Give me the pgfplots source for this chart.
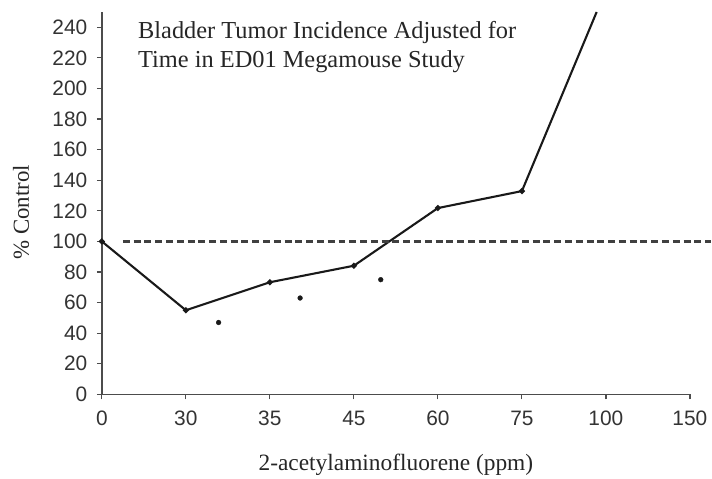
\documentclass[border=0pt]{standalone}
\usepackage{fontspec}
\setmainfont{Liberation Serif}
\setsansfont{Liberation Sans}
\usepackage{pgfplots}
\pgfplotsset{compat=1.18}
\begin{document}
\begin{tikzpicture}
\begin{axis}[
  scale only axis,
  width=589bp, height=383bp,
  at={(0,0)}, anchor=south west,
  xmin=0, xmax=7, ymin=0, ymax=250,
  axis x line*=bottom, axis y line*=left,
  axis line style={line width=1.4pt, black!70},
  xtick={0,1,2,3,4,5,6,7},
  xticklabels={0,30,35,45,60,75,100,150},
  ytick={0,20,...,240},
  tick align=outside,
  major tick length=5bp,
  tick style={line width=1.2pt, black!70},
  /pgf/number format/assume math mode=true,
  ticklabel style={font=\sffamily\fontsize{21}{24}\selectfont, text=black!80},
  yticklabel style={xshift=-6bp},
  xticklabel style={yshift=-8bp},
  clip=false,
  xlabel={2-acetylaminofluorene (ppm)},
  ylabel={\% Control},
  label style={text=black!85},
  xlabel style={font=\fontsize{23.5}{27}\selectfont, at={(axis description cs:0.5,0)}, anchor=base, yshift=-76bp},
  ylabel style={font=\fontsize{23}{27}\selectfont, at={(axis description cs:-0.1375,0.476)}, anchor=center},
]
\addplot[black!90, line width=2.1pt, mark=*, mark size=1.8pt] coordinates {
  (0,100) (1,55) (2,73.3) (3,84.1) (4,121.8) (5,132.9)
};
\addplot[black!90, line width=2.1pt] coordinates {
  (5,132.9) (5.89,250)
};
\addplot[only marks, black!90, mark=*, mark size=2.4pt] coordinates {
  (1.39,47) (2.36,63) (3.32,75)
};
\addplot[black!75, line width=2.2pt, dash pattern=on 7bp off 3.8bp] coordinates {
  (0.25,100) (7.25,100)
};
\node[anchor=north west, align=left, font=\fontsize{24.5}{29}\selectfont, text=black!85, inner sep=0pt]
  at (axis cs:0.43,244) {Bladder Tumor Incidence Adjusted for\\Time in ED01 Megamouse Study};
\end{axis}
\path (-102bp,-83bp) rectangle (610bp,395bp);
\end{tikzpicture}
\end{document}
